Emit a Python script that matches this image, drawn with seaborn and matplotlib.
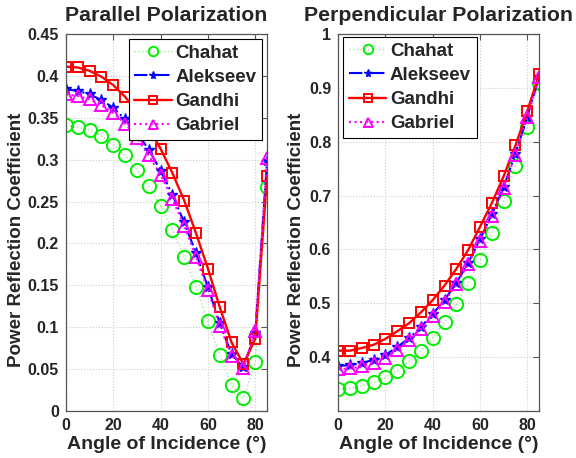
import numpy as np
import pandas as pd
import seaborn as sns
import matplotlib.pyplot as plt

angles = [0, 5, 10, 15, 20, 25, 30, 35, 40, 45, 50, 55, 60, 65, 70, 75, 80, 85]

# parallel polarization
par_chahat = [0.341, 0.339, 0.335, 0.328, 0.318, 0.305, 0.288, 0.268, 0.245, 0.216,
              0.184, 0.148, 0.107, 0.067, 0.031, 0.015, 0.058, 0.267]
par_alekseev = [0.384, 0.382, 0.378, 0.371, 0.362, 0.348, 0.332, 0.312, 0.287, 0.258,
                0.225, 0.188, 0.148, 0.105, 0.068, 0.052, 0.093, 0.298]
par_gandhi = [0.411, 0.410, 0.406, 0.399, 0.389, 0.375, 0.357, 0.337, 0.313, 0.284,
              0.251, 0.212, 0.170, 0.124, 0.082, 0.056, 0.086, 0.280]
par_gabriel = [0.378, 0.376, 0.372, 0.365, 0.356, 0.343, 0.326, 0.305, 0.282, 0.253,
               0.221, 0.184, 0.144, 0.102, 0.066, 0.051, 0.095, 0.302]

# perpendicular polarization
perp_chahat = [0.341, 0.342, 0.347, 0.353, 0.363, 0.375, 0.392, 0.412, 0.436, 0.465,
               0.498, 0.537, 0.581, 0.631, 0.690, 0.755, 0.828, 0.909]
perp_alekseev = [0.384, 0.385, 0.389, 0.395, 0.404, 0.419, 0.435, 0.456, 0.480, 0.506,
                 0.538, 0.575, 0.619, 0.665, 0.716, 0.778, 0.846, 0.921]
perp_gandhi = [0.412, 0.412, 0.417, 0.423, 0.434, 0.448, 0.463, 0.483, 0.506, 0.533,
               0.564, 0.599, 0.642, 0.686, 0.736, 0.793, 0.857, 0.925]
perp_gabriel = [0.378, 0.379, 0.383, 0.390, 0.399, 0.414, 0.431, 0.452, 0.476, 0.503,
                0.535, 0.573, 0.616, 0.662, 0.714, 0.776, 0.845, 0.921]

models = ['Chahat', 'Alekseev', 'Gandhi', 'Gabriel']

# line / marker styles per model
styles = {
    'Chahat': dict(color='#99ee99', linestyle=':', linewidth=1.0, marker='o', markersize=9.5,
                   markeredgecolor='#00ee00', markerfacecolor='none', markeredgewidth=1.4),
    'Alekseev': dict(color='#0000ff', linestyle='-.', linewidth=1.5, marker='*', markersize=8,
                     markeredgecolor='#0000ff', markerfacecolor='#0000ff', markeredgewidth=1.0),
    'Gandhi': dict(color='#ff0000', linestyle='-', linewidth=1.7, marker='s', markersize=7.5,
                   markeredgecolor='#ff0000', markerfacecolor='none', markeredgewidth=1.4),
    'Gabriel': dict(color='#ff00ff', linestyle=':', linewidth=1.5, marker='^', markersize=9,
                    markeredgecolor='#ff00ff', markerfacecolor='none', markeredgewidth=1.4),
}

sns.set_theme(style='white')
plt.rcParams['font.family'] = ['Liberation Sans', 'DejaVu Sans']
plt.rcParams['font.weight'] = 'bold'

fig = plt.figure(figsize=(5.76, 4.58), dpi=100)
ax1 = fig.add_axes([0.1146, 0.1026, 0.349, 0.8232])
ax2 = fig.add_axes([0.587, 0.1026, 0.349, 0.8232])

panels = [
    (ax1, 'Parallel Polarization', [par_chahat, par_alekseev, par_gandhi, par_gabriel],
     (0, 0.45), np.arange(0, 0.451, 0.05), ['0', '0.05', '0.1', '0.15', '0.2', '0.25', '0.3', '0.35', '0.4', '0.45'],
     'upper right', (0.975, 0.987), -0.204),
    (ax2, 'Perpendicular Polarization', [perp_chahat, perp_alekseev, perp_gandhi, perp_gabriel],
     (0.3, 1.0), np.arange(0.4, 1.01, 0.1), ['0.4', '0.5', '0.6', '0.7', '0.8', '0.9', '1'],
     'upper left', (0.025, 0.992), -0.164),
]

for ax, title, series, ylim, yticks, yticklabels, loc, anchor, ylab_x in panels:
    for name, vals in zip(models, series):
        df = pd.DataFrame({'angle': angles, 'value': vals})
        sns.lineplot(data=df, x='angle', y='value', ax=ax, label=name, **styles[name])
    ax.set_xlim(0, 85)
    ax.set_ylim(*ylim)
    ax.set_xticks([0, 20, 40, 60, 80])
    ax.set_yticks(yticks)
    ax.set_yticklabels(yticklabels)
    ax.grid(True, color='#cccccc', linestyle=':', linewidth=0.8)
    ax.tick_params(direction='in', top=True, right=True, length=4, width=0.8,
                   color='#555555', labelsize=11.5, pad=5)
    for lab in ax.get_xticklabels() + ax.get_yticklabels():
        lab.set_fontweight('bold')
    for sp in ax.spines.values():
        sp.set_color('#555555')
        sp.set_linewidth(0.9)
    ax.set_title(title, fontsize=15.3, fontweight='bold', pad=9)
    ax.set_xlabel('Angle of Incidence (°)', fontsize=14, fontweight='bold', labelpad=2)
    ax.set_ylabel('Power Reflection Coefficient', fontsize=13.5, fontweight='bold')
    ax.yaxis.set_label_coords(ylab_x, 0.454)
    leg = ax.legend(loc=loc, bbox_to_anchor=anchor, fontsize=13.5, frameon=True,
                    fancybox=False, edgecolor='black', framealpha=1, handlelength=2.0,
                    borderpad=0.3, labelspacing=0.38, handletextpad=0.2, borderaxespad=0.0)
    leg.get_frame().set_linewidth(0.8)
    # legend markers are a bit smaller than the plotted ones
    for h in leg.legend_handles:
        h.set_markersize(h.get_markersize() * 0.72)
    for t in leg.get_texts():
        t.set_fontweight('bold')

fig.savefig('out.png', dpi=100)
